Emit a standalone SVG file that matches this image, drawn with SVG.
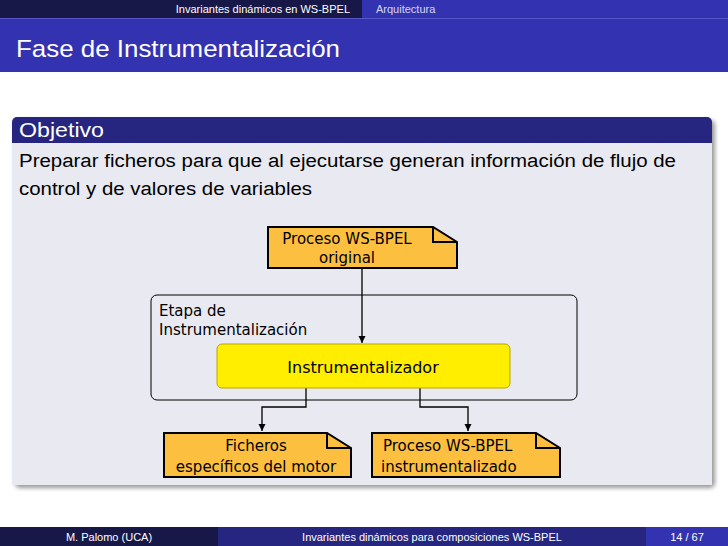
<svg xmlns="http://www.w3.org/2000/svg" width="728" height="546" viewBox="0 0 728 546">
<defs>
<style>
.hd{font-family:"Liberation Sans",sans-serif;fill:#fff}
.t{font-family:"DejaVu Sans",sans-serif;font-size:15px;fill:#000}
.note{fill:#fcbf3f;stroke:#000;stroke-width:2}
.c{fill:none;stroke:#000;stroke-width:1.3}
</style>
<marker id="ar" viewBox="0 0 10 10" refX="10" refY="5" markerWidth="7" markerHeight="9" orient="auto" markerUnits="userSpaceOnUse"><path d="M0,0 L10,5 L0,10 z" fill="#000"/></marker>
<filter id="sh" x="-5%" y="-5%" width="110%" height="115%"><feGaussianBlur stdDeviation="2"/></filter>
</defs>
<rect width="728" height="546" fill="#fff"/>
<rect x="0" y="0" width="362" height="18" fill="#181848"/>
<rect x="362" y="0" width="366" height="18" fill="#3333b2"/>
<rect x="0" y="18" width="728" height="54" fill="#3333b2"/>
<line x1="0" y1="18.5" x2="728" y2="18.5" stroke="#5656c8" stroke-width="1"/>
<text class="hd" x="350" y="13" font-size="11" text-anchor="end">Invariantes dinámicos en WS-BPEL</text>
<text class="hd" x="376" y="13" font-size="11" fill-opacity="0.8">Arquitectura</text>
<text class="hd" x="16" y="57" font-size="24" textLength="324" lengthAdjust="spacingAndGlyphs">Fase de Instrumentalización</text>
<rect x="15" y="120" width="700" height="368" rx="5" fill="#999" filter="url(#sh)"/>
<path d="M12,143 V122 a5,5 0 0 1 5,-5 H707 a5,5 0 0 1 5,5 V143 Z" fill="#262680"/>
<rect x="12" y="143" width="700" height="342" fill="#e9e9f1"/>
<text class="hd" x="19" y="137" font-size="20" textLength="85" lengthAdjust="spacingAndGlyphs">Objetivo</text>
<text x="19" y="167" font-family="Liberation Sans,sans-serif" font-size="18" textLength="657" lengthAdjust="spacingAndGlyphs">Preparar ficheros para que al ejecutarse generan información de flujo de</text>
<text x="19" y="195" font-family="Liberation Sans,sans-serif" font-size="18" textLength="293" lengthAdjust="spacingAndGlyphs">control y de valores de variables</text>
<g id="etapa">
<rect x="151" y="295" width="426" height="105" rx="6" fill="none" stroke="#000" stroke-width="1"/>
<text class="t" x="159" y="316">Etapa de</text>
<text class="t" x="159" y="335">Instrumentalización</text>
</g>
<g id="connectors">
<path class="c" d="M362,268 V343" marker-end="url(#ar)"/>
<path class="c" d="M306,388 V407 H262 V431" marker-end="url(#ar)"/>
<path class="c" d="M420,388 V407 H468 V431" marker-end="url(#ar)"/>
</g>
<g id="orig">
<path class="note" d="M268,227 H433 L457,242 V268 H268 Z"/>
<path d="M433,227 V242 H457" fill="none" stroke="#000" stroke-width="2"/>
<text class="t" x="347" y="244" text-anchor="middle">Proceso WS-BPEL</text>
<text class="t" x="347" y="263" text-anchor="middle">original</text>
</g>
<g id="instr">
<rect x="217" y="344" width="293" height="44" rx="5" fill="#ffee00" stroke="#b8a800" stroke-width="1"/>
<text x="363" y="373" text-anchor="middle" font-family="DejaVu Sans,sans-serif" font-size="16">Instrumentalizador</text>
</g>
<g id="ficheros">
<path class="note" d="M164,433 H327 L351,448 V477 H164 Z"/>
<path d="M327,433 V448 H351" fill="none" stroke="#000" stroke-width="2"/>
<text class="t" x="256" y="451" text-anchor="middle">Ficheros</text>
<text class="t" x="256" y="472" text-anchor="middle">específicos del motor</text>
</g>
<g id="instrumentado">
<path class="note" d="M372,433 H536 L560,448 V477 H372 Z"/>
<path d="M536,433 V448 H560" fill="none" stroke="#000" stroke-width="2"/>
<text class="t" x="383" y="451">Proceso WS-BPEL</text>
<text class="t" x="381" y="472">instrumentalizado</text>
</g>
<rect x="0" y="527" width="218" height="19" fill="#181848"/>
<rect x="218" y="527" width="428" height="19" fill="#262680"/>
<rect x="646" y="527" width="82" height="19" fill="#3333b2"/>
<text class="hd" x="109" y="541" font-size="11" text-anchor="middle">M. Palomo (UCA)</text>
<text class="hd" x="432" y="541" font-size="11" text-anchor="middle">Invariantes dinámicos para composiciones WS-BPEL</text>
<text class="hd" x="687" y="541" font-size="11" text-anchor="middle">14 / 67</text>
</svg>
